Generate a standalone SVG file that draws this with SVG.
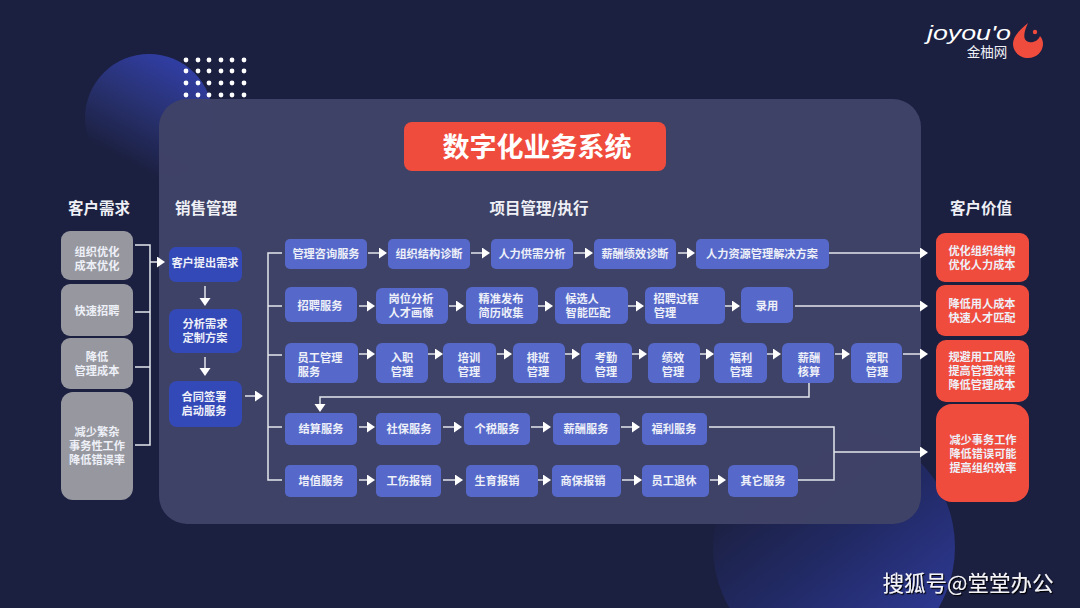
<svg xmlns="http://www.w3.org/2000/svg" width="1080" height="608" viewBox="0 0 1080 608">
<defs>
<linearGradient id="gc1" x1="0.25" y1="0.8" x2="0.65" y2="0.05"><stop offset="0" stop-color="#1b2040"/><stop offset="0.5" stop-color="#28316f"/><stop offset="1" stop-color="#303da0"/></linearGradient>
<linearGradient id="gc2" x1="0.2" y1="0.2" x2="0.75" y2="0.9"><stop offset="0" stop-color="#1b2040"/><stop offset="0.5" stop-color="#222a66"/><stop offset="1" stop-color="#2c3890"/></linearGradient>
<marker id="ah" markerUnits="userSpaceOnUse" markerWidth="9" markerHeight="12" refX="0" refY="5.5" orient="auto"><path d="M0 0L8 5.5L0 11Z" fill="#fff"/></marker>
<filter id="sh" x="-5%" y="-20%" width="110%" height="140%"><feDropShadow dx="1.2" dy="1.2" stdDeviation="0.2" flood-color="#000"/></filter>
</defs>
<style>
text{font-family:"Noto Sans CJK SC","Noto Sans",sans-serif;fill:#fff;text-anchor:middle}
.h{font-size:15.5px;font-weight:700;fill:#eef0f5}
.t{font-size:11.2px;font-weight:700;fill:#eef0f8}
.g rect{fill:#97989f}
.s rect{fill:#3449b8}
.b rect{fill:#5669cb}
.r rect{fill:#f04c3e}
.c path{fill:none;stroke:#e4e6ec;stroke-width:1.5}
.c .a{marker-end:url(#ah)}
</style>
<rect width="1080" height="608" fill="#1b1f40"/>
<circle cx="149" cy="118" r="64" fill="url(#gc1)"/>
<circle cx="834" cy="547" r="121" fill="url(#gc2)"/>
<g fill="#fff"><circle cx="186" cy="60" r="2.4"/><circle cx="198" cy="60" r="2.4"/><circle cx="209" cy="60" r="2.4"/><circle cx="221" cy="60" r="2.4"/><circle cx="232" cy="60" r="2.4"/><circle cx="244" cy="60" r="2.4"/><circle cx="186" cy="71" r="2.4"/><circle cx="198" cy="71" r="2.4"/><circle cx="209" cy="71" r="2.4"/><circle cx="221" cy="71" r="2.4"/><circle cx="232" cy="71" r="2.4"/><circle cx="244" cy="71" r="2.4"/><circle cx="186" cy="83" r="2.4"/><circle cx="198" cy="83" r="2.4"/><circle cx="209" cy="83" r="2.4"/><circle cx="221" cy="83" r="2.4"/><circle cx="232" cy="83" r="2.4"/><circle cx="244" cy="83" r="2.4"/><circle cx="186" cy="95" r="2.4"/><circle cx="198" cy="95" r="2.4"/><circle cx="209" cy="95" r="2.4"/><circle cx="221" cy="95" r="2.4"/><circle cx="232" cy="95" r="2.4"/><circle cx="244" cy="95" r="2.4"/></g>
<rect x="159" y="99" width="762" height="425" rx="28" fill="#404367" fill-opacity="0.97"/>
<g id="logo"><text x="969" y="40" style="font-family:'Liberation Sans',sans-serif;font-size:21px;font-style:italic" textLength="84" lengthAdjust="spacingAndGlyphs">joyou'o</text><text x="987" y="57" style="font-size:13.5px;fill:#eef0f5">金柚网</text><path d="M1028 23C1020 30 1013 36 1013 44C1013 52 1020 58 1028 58C1037 58 1043 51 1043 44C1043 41 1042 38 1040 36C1038 41 1033 43 1029 42C1024 41 1022 36 1028 23Z" fill="#f04c3e"/><circle cx="1035" cy="32" r="2.2" fill="#f04c3e"/></g>
<g id="title"><rect x="404" y="122" width="262" height="49" rx="8" fill="#f04c3e"/><text x="537" y="157" style="font-size:27px;font-weight:700">数字化业务系统</text></g>
<g id="headings"><text class="h" x="99" y="214">客户需求</text><text class="h" x="206" y="214">销售管理</text><text class="h" x="539" y="214">项目管理/执行</text><text class="h" x="981" y="214">客户价值</text></g>
<g id="connectors" class="c">
<path d="M135 245H150V445H135M135 312H150M135 367H150"/><path class="a" d="M150 262H157"/>
<path class="a" d="M205 286V298"/><path class="a" d="M205 357V368"/><path class="a" d="M245 396H255"/>
<path d="M282 253H268V480H282M268 306H282M268 355H282M268 427H282"/>
<path class="a" d="M368 253H379"/><path class="a" d="M471 253H482"/><path class="a" d="M574 253H585"/><path class="a" d="M678 253H687"/><path class="a" d="M829 253H920"/>
<path class="a" d="M359 306H367"/><path class="a" d="M449 306H456"/><path class="a" d="M538 306H545"/><path class="a" d="M628 306H636"/><path class="a" d="M725 306H732"/><path class="a" d="M795 306H920"/>
<path class="a" d="M359 354H367"/><path class="a" d="M428 354H435"/><path class="a" d="M497 354H504"/><path class="a" d="M565 354H572"/><path class="a" d="M632 354H639"/><path class="a" d="M700 354H706"/><path class="a" d="M767 354H773"/><path class="a" d="M835 354H842"/><path class="a" d="M903 354H920"/>
<path class="a" d="M809 383V397H320V404"/>
<path class="a" d="M359 427H367"/><path class="a" d="M443 427H454"/><path class="a" d="M531 427H543"/><path class="a" d="M621 427H632"/>
<path class="a" d="M359 480H367"/><path class="a" d="M443 480H455"/><path class="a" d="M533 480H543"/><path class="a" d="M622 480H634"/><path class="a" d="M710 480H718"/>
<path d="M709 427H834V480H798"/><path class="a" d="M834 452H920"/>
</g>
<g class="g"><g id="n-need1"><rect x="61" y="231" width="72" height="49" rx="9"/><text class="t" x="97" y="256">组织优化</text><text class="t" x="97" y="270">成本优化</text></g>
<g id="n-need2"><rect x="61" y="284" width="72" height="52" rx="9"/><text class="t" x="97" y="315">快速招聘</text></g>
<g id="n-need3"><rect x="61" y="338" width="72" height="51" rx="9"/><text class="t" x="97" y="361">降低</text><text class="t" x="97" y="375">管理成本</text></g>
<g id="n-need4"><rect x="61" y="392" width="72" height="108" rx="12"/><text class="t" x="97" y="436">减少繁杂</text><text class="t" x="97" y="450">事务性工作</text><text class="t" x="97" y="464">降低错误率</text></g></g>
<g class="s"><g id="n-sale1"><rect x="169" y="247" width="73" height="35" rx="7"/><text class="t" x="205" y="267">客户提出需求</text></g>
<g id="n-sale2"><rect x="169" y="309" width="73" height="44" rx="8"/><text class="t" x="205" y="328">分析需求</text><text class="t" x="205" y="342">定制方案</text></g>
<g id="n-sale3"><rect x="169" y="381" width="73" height="46" rx="8"/><text class="t" x="204" y="401">合同签署</text><text class="t" x="204" y="415">启动服务</text></g></g>
<g class="b">
<g id="a1"><rect x="285" y="239" width="82" height="30" rx="5"/><text class="t" x="326" y="258">管理咨询服务</text></g>
<g id="a2"><rect x="388" y="239" width="82" height="30" rx="5"/><text class="t" x="429" y="258">组织结构诊断</text></g>
<g id="a3"><rect x="491" y="239" width="82" height="30" rx="5"/><text class="t" x="532" y="258">人力供需分析</text></g>
<g id="a4"><rect x="594" y="239" width="82" height="30" rx="5"/><text class="t" x="635" y="258">薪酬绩效诊断</text></g>
<g id="a5"><rect x="696" y="239" width="133" height="30" rx="5"/><text class="t" x="762" y="258">人力资源管理解决方案</text></g>
<g id="b1"><rect x="285" y="287" width="72" height="35" rx="6"/><text class="t" x="320" y="310">招聘服务</text></g>
<g id="b2"><rect x="376" y="288" width="72" height="36" rx="6"/><text class="t" x="411" y="303">岗位分析</text><text class="t" x="411" y="317">人才画像</text></g>
<g id="b3"><rect x="466" y="287" width="72" height="37" rx="6"/><text class="t" x="501" y="303">精准发布</text><text class="t" x="501" y="317">简历收集</text></g>
<g id="b4"><rect x="555" y="287" width="73" height="37" rx="6"/><text class="t" x="582" y="303">候选人</text><text class="t" x="588" y="317">智能匹配</text></g>
<g id="b5"><rect x="645" y="287" width="80" height="37" rx="6"/><text class="t" x="676" y="303">招聘过程</text><text class="t" x="665" y="317">管理</text></g>
<g id="b6"><rect x="741" y="287" width="52" height="36" rx="6"/><text class="t" x="767" y="310">录用</text></g>
<g id="c1"><rect x="285" y="343" width="73" height="40" rx="6"/><text class="t" x="320" y="362">员工管理</text><text class="t" x="309" y="376">服务</text></g>
<g id="c2"><rect x="376" y="343" width="52" height="40" rx="6"/><text class="t" x="402" y="362">入职</text><text class="t" x="402" y="376">管理</text></g>
<g id="c3"><rect x="443" y="343" width="53" height="40" rx="6"/><text class="t" x="469" y="362">培训</text><text class="t" x="469" y="376">管理</text></g>
<g id="c4"><rect x="513" y="343" width="52" height="40" rx="6"/><text class="t" x="538" y="362">排班</text><text class="t" x="538" y="376">管理</text></g>
<g id="c5"><rect x="581" y="343" width="51" height="40" rx="6"/><text class="t" x="606" y="362">考勤</text><text class="t" x="606" y="376">管理</text></g>
<g id="c6"><rect x="648" y="343" width="52" height="40" rx="6"/><text class="t" x="673" y="362">绩效</text><text class="t" x="673" y="376">管理</text></g>
<g id="c7"><rect x="714" y="343" width="53" height="40" rx="6"/><text class="t" x="741" y="362">福利</text><text class="t" x="741" y="376">管理</text></g>
<g id="c8"><rect x="782" y="343" width="52" height="40" rx="6"/><text class="t" x="809" y="362">薪酬</text><text class="t" x="809" y="376">核算</text></g>
<g id="c9"><rect x="851" y="343" width="51" height="40" rx="6"/><text class="t" x="877" y="362">离职</text><text class="t" x="877" y="376">管理</text></g>
<g id="d1"><rect x="285" y="413" width="72" height="32" rx="5"/><text class="t" x="321" y="433">结算服务</text></g>
<g id="d2"><rect x="376" y="413" width="65" height="32" rx="5"/><text class="t" x="409" y="433">社保服务</text></g>
<g id="d3"><rect x="464" y="413" width="66" height="32" rx="5"/><text class="t" x="497" y="433">个税服务</text></g>
<g id="d4"><rect x="553" y="413" width="67" height="32" rx="5"/><text class="t" x="586" y="433">薪酬服务</text></g>
<g id="d5"><rect x="642" y="413" width="65" height="32" rx="5"/><text class="t" x="674" y="433">福利服务</text></g>
<g id="e1"><rect x="285" y="465" width="72" height="32" rx="5"/><text class="t" x="321" y="485">增值服务</text></g>
<g id="e2"><rect x="376" y="465" width="65" height="32" rx="5"/><text class="t" x="409" y="485">工伤报销</text></g>
<g id="e3"><rect x="466" y="465" width="72" height="32" rx="5"/><text class="t" x="497" y="485">生育报销</text></g>
<g id="e4"><rect x="552" y="465" width="69" height="32" rx="5"/><text class="t" x="583" y="485">商保报销</text></g>
<g id="e5"><rect x="642" y="465" width="67" height="32" rx="5"/><text class="t" x="674" y="485">员工退休</text></g>
<g id="e6"><rect x="728" y="465" width="70" height="32" rx="6"/><text class="t" x="763" y="485">其它服务</text></g>
</g>
<g class="r"><g id="v1"><rect x="936" y="233" width="93" height="49" rx="9"/><text class="t" x="982" y="255">优化组织结构</text><text class="t" x="982" y="269">优化人力成本</text></g>
<g id="v2"><rect x="936" y="285" width="93" height="51" rx="9"/><text class="t" x="982" y="308">降低用人成本</text><text class="t" x="982" y="322">快速人才匹配</text></g>
<g id="v3"><rect x="936" y="340" width="93" height="62" rx="10"/><text class="t" x="982" y="361">规避用工风险</text><text class="t" x="982" y="375">提高管理效率</text><text class="t" x="982" y="389">降低管理成本</text></g>
<g id="v4"><rect x="936" y="404" width="93" height="98" rx="16"/><text class="t" x="983" y="444">减少事务工作</text><text class="t" x="983" y="458">降低错误可能</text><text class="t" x="983" y="472">提高组织效率</text></g></g>
<text x="968" y="591" filter="url(#sh)" style="font-size:21.5px;fill:#f4f4f8">搜狐号@堂堂办公</text>
</svg>
